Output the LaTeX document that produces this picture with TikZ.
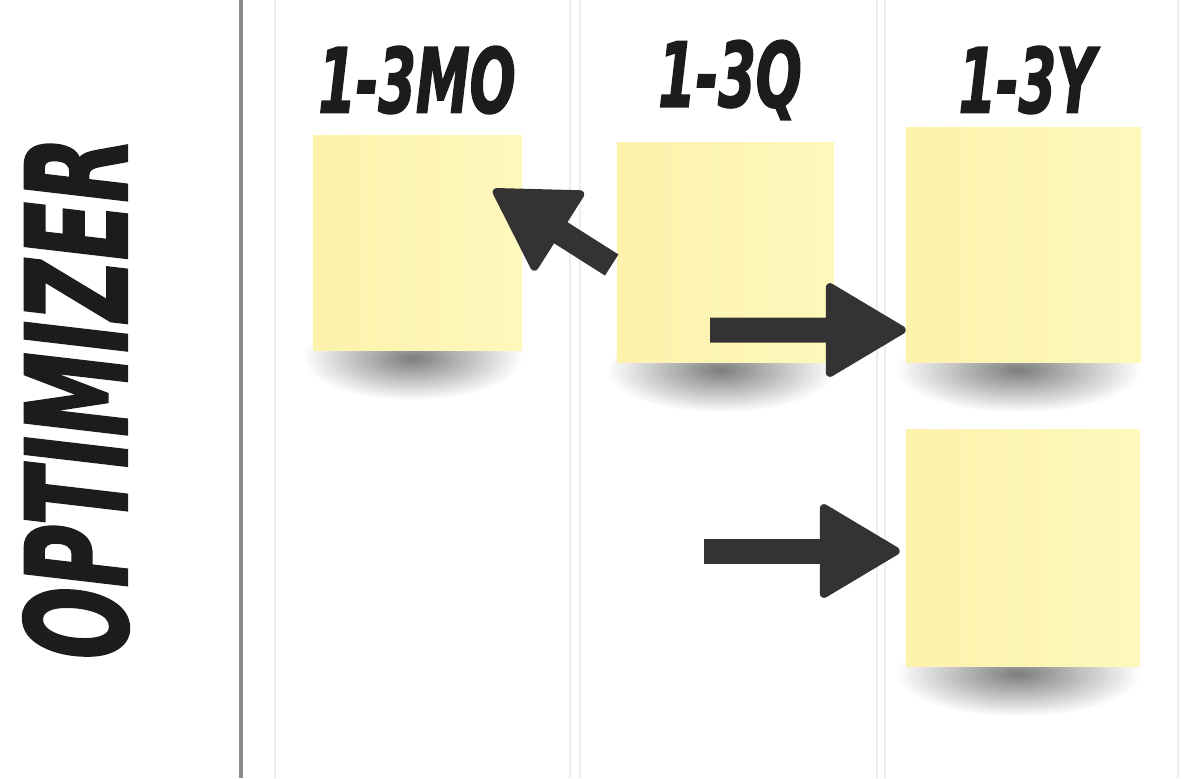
\documentclass[tikz,border=0pt]{standalone}
\usepackage{fontspec}
\newfontfamily\comicfont{DejaVu Sans}[FakeStretch=0.6, FakeBold=1.5]
\usetikzlibrary{arrows.meta,backgrounds,fadings}
\definecolor{notefill}{HTML}{FCF2AC}
\definecolor{notelight}{HTML}{FFF8BC}
\definecolor{arrowgrey}{HTML}{333333}
\definecolor{inkblack}{HTML}{1C1C1C}
\definecolor{railgrey}{HTML}{8C8C8C}
\definecolor{lanegrey}{HTML}{EDEDED}
\tikzfading[name=softshadow, inner color=transparent!15, outer color=transparent!100]

\begin{document}
\begin{tikzpicture}[
    x=0.025cm, y=-0.025cm,
    note/.style={inner sep=0pt, left color=notefill, right color=notelight},
    head/.style={font=\comicfont\bfseries\itshape\fontsize{64}{64}\selectfont, text=inkblack},
    bigarrow/.style={arrowgrey, line width=0.625cm, -{Triangle[length=2.1cm, width=2.45cm, round, line width=6pt]}}
]
\useasboundingbox (0,0) rectangle (1204,778);

\node[rotate=90, text=inkblack, font=\comicfont\bfseries\itshape\fontsize{100}{100}\selectfont] (lane) at (76,398) {OPTIMIZER};

\node[head] (hmo) at (417,80) {1-3MO};
\node[head] (hq) at (730,80) {1-3Q};
\node[head] (hy) at (1027,80) {1-3Y};

\node[note, minimum width=5.225cm, minimum height=5.35cm] (mo1) at (417.5,243) {};
\node[note, minimum width=5.425cm, minimum height=5.475cm] (q1) at (725.5,252.5) {};
\node[note, minimum width=5.875cm, minimum height=5.85cm] (y1) at (1023.5,245) {};
\node[note, minimum width=5.85cm, minimum height=5.9cm] (y2) at (1023,548) {};

\draw[bigarrow] ([shift={(-5,12.5)}]q1.west) -- ([shift={(-29,-53)}]mo1.east);
\draw[bigarrow] ([shift={(-15.5,77.5)}]q1.center) -- ([shift={(0,85)}]y1.west);
\coordinate (tail3) at (704,551);
\draw[bigarrow] (tail3) -- ([shift={(-6,3)}]y2.west);

\begin{scope}[on background layer]
  \draw[railgrey, line width=2.2pt] (241,0) -- (241,778);
  \foreach \x in {275,570,580,877,885,1178}
    \draw[lanegrey, line width=0.8pt] (\x,0) -- (\x,778);
  \foreach \n in {mo1,q1,y1,y2}
    \fill[black, opacity=0.6, path fading=softshadow] ([shift={(-10,-35)}]\n.south west) rectangle ([shift={(0,50)}]\n.south east);
\end{scope}
\end{tikzpicture}
\end{document}
